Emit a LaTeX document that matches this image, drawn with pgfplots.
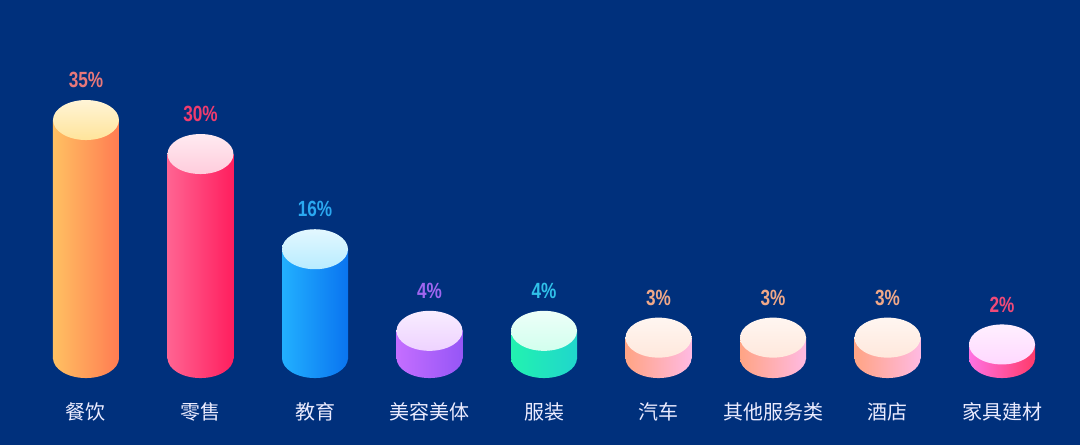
\documentclass[border=0pt]{standalone}
\usepackage{pgfplots}
\pgfplotsset{compat=1.18}
\usepackage{fontspec}
\setmainfont{Liberation Sans}
\newfontfamily\cjk{Noto Sans CJK SC}
\newfontfamily\pct[FakeStretch=0.78]{Liberation Sans}

\definecolor{bg}{HTML}{00307C}
\definecolor{aL}{HTML}{FFC062}\definecolor{aR}{HTML}{FF7C52}\definecolor{aC}{HTML}{FFE49A}\definecolor{aT}{HTML}{E8787A}
\definecolor{bL}{HTML}{FF6492}\definecolor{bR}{HTML}{FF1E5E}\definecolor{bC}{HTML}{FFCCDC}\definecolor{bT}{HTML}{F03C6E}
\definecolor{cL}{HTML}{22B0FF}\definecolor{cR}{HTML}{0A74F0}\definecolor{cC}{HTML}{B8ECFF}\definecolor{cT}{HTML}{2AA8F0}
\definecolor{dL}{HTML}{C46EFF}\definecolor{dR}{HTML}{9656F6}\definecolor{dC}{HTML}{EED2FF}\definecolor{dT}{HTML}{A066F0}
\definecolor{eL}{HTML}{22F2B0}\definecolor{eR}{HTML}{20D6CC}\definecolor{eC}{HTML}{D2FFEE}\definecolor{eT}{HTML}{30C0E8}
\definecolor{fL}{HTML}{FFA484}\definecolor{fR}{HTML}{FFBAE2}\definecolor{fC}{HTML}{FFE8DC}\definecolor{fT}{HTML}{F0A888}
\definecolor{gL}{HTML}{FF72E2}\definecolor{gR}{HTML}{FF3A6A}\definecolor{gC}{HTML}{FFD8FF}\definecolor{gT}{HTML}{F04A78}

\newcommand\defcyl[4]{%
  \pgfdeclareplotmark{bot#1}{\path[draw=none,left color=#2,right color=#3] (0bp,0bp) ellipse[x radius=33bp,y radius=20bp];}%
  \pgfdeclareplotmark{top#1}{\path[draw=none,top color=#4!40!white,bottom color=#4] (0bp,0bp) ellipse[x radius=33bp,y radius=20bp];}%
}
\defcyl{a}{aL}{aR}{aC}
\defcyl{b}{bL}{bR}{bC}
\defcyl{c}{cL}{cR}{cC}
\defcyl{d}{dL}{dR}{dC}
\defcyl{e}{eL}{eR}{eC}
\defcyl{f}{fL}{fR}{fC}
\defcyl{g}{gL}{gR}{gC}

\pgfplotsset{
  body/.style n args={2}{ybar, bar width=66bp, bar shift=0pt, draw=none, left color=#1, right color=#2},
  base/.style={only marks, mark=bot#1, mark options={draw=none}},
  cap/.style n args={2}{only marks, mark=top#1, mark options={draw=none},
    nodes near coords={\pgfmathprintnumber[assume math mode=true]{\pgfplotspointmeta}\%},
    nodes near coords style={font=\pct\bfseries\fontsize{22bp}{26bp}\selectfont, text=#2, anchor=center, yshift=40bp}},
}

\begin{document}
\begin{tikzpicture}
\begin{axis}[
  scale only axis, width=1080bp, height=445bp,
  xmin=-0.751, xmax=8.681, ymin=-12.79, ymax=52.65,
  axis background/.style={fill=bg},
  axis line style={draw=none}, tick style={draw=none},
  ytick=\empty,
  xtick={0,1,2,3,4,5,6,7,8},
  xticklabels={餐饮,零售,教育,美容美体,服装,汽车,其他服务类,酒店,家具建材},
  xticklabel style={font=\cjk\fontsize{20bp}{24bp}\selectfont, text=white!92!blue, anchor=center, yshift=33bp},
  clip=false,
]
\coordinate (SW) at (rel axis cs:0,0);
\coordinate (NE) at (rel axis cs:1,1);
% 餐饮
\addplot[base=a] coordinates {(0,0)};
\addplot[body={aL}{aR}] coordinates {(0,35)};
\addplot[cap={a}{aT}] coordinates {(0,35)};
% 零售
\addplot[base=b] coordinates {(1,0)};
\addplot[body={bL}{bR}] coordinates {(1,30)};
\addplot[cap={b}{bT}] coordinates {(1,30)};
% 教育
\addplot[base=c] coordinates {(2,0)};
\addplot[body={cL}{cR}] coordinates {(2,16)};
\addplot[cap={c}{cT}] coordinates {(2,16)};
% 美容美体
\addplot[base=d] coordinates {(3,0)};
\addplot[body={dL}{dR}] coordinates {(3,4)};
\addplot[cap={d}{dT}] coordinates {(3,4)};
% 服装
\addplot[base=e] coordinates {(4,0)};
\addplot[body={eL}{eR}] coordinates {(4,4)};
\addplot[cap={e}{eT}] coordinates {(4,4)};
% 汽车
\addplot[base=f] coordinates {(5,0)};
\addplot[body={fL}{fR}] coordinates {(5,3)};
\addplot[cap={f}{fT}] coordinates {(5,3)};
% 其他服务类
\addplot[base=f] coordinates {(6,0)};
\addplot[body={fL}{fR}] coordinates {(6,3)};
\addplot[cap={f}{fT}] coordinates {(6,3)};
% 酒店
\addplot[base=f] coordinates {(7,0)};
\addplot[body={fL}{fR}] coordinates {(7,3)};
\addplot[cap={f}{fT}] coordinates {(7,3)};
% 家具建材
\addplot[base=g] coordinates {(8,0)};
\addplot[body={gL}{gR}] coordinates {(8,2)};
\addplot[cap={g}{gT}] coordinates {(8,2)};
\end{axis}
\pgfresetboundingbox
\useasboundingbox (SW) rectangle (NE);
\end{tikzpicture}
\end{document}
